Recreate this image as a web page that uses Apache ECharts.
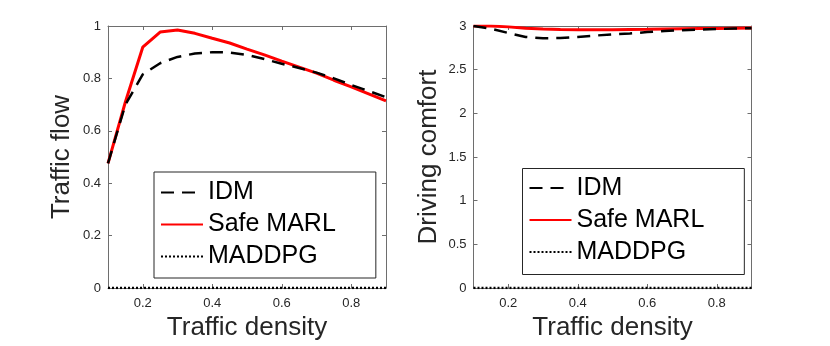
<!DOCTYPE html>
<html>
<head>
<meta charset="utf-8">
<script src="https://cdn.jsdelivr.net/npm/echarts@6/dist/echarts.min.js"></script>
<style>html,body{margin:0;padding:0;background:#fff;}#c{width:830px;height:346px;}</style>
</head>
<body>
<div id="c"></div>
<script>
var density = [0.1,0.15,0.2,0.25,0.3,0.35,0.4,0.45,0.5,0.55,0.6,0.65,0.7,0.75,0.8,0.85,0.9];
var flowIDM = [0.476,0.70,0.815,0.858,0.882,0.895,0.900,0.899,0.890,0.874,0.856,0.840,0.822,0.800,0.775,0.752,0.728];
var flowSafe = [0.476,0.71,0.919,0.977,0.985,0.972,0.953,0.935,0.912,0.890,0.866,0.843,0.820,0.793,0.768,0.741,0.714];
var flowMADDPG = [0,0,0,0,0,0,0,0,0,0,0,0,0,0,0,0,0];
var comfortIDM = [3.0,2.97,2.92,2.875,2.86,2.862,2.875,2.89,2.905,2.915,2.93,2.942,2.952,2.958,2.965,2.97,2.975];
var comfortSafe = [3.0,3.0,2.99,2.975,2.965,2.96,2.958,2.958,2.958,2.96,2.962,2.965,2.968,2.97,2.972,2.975,2.978];
var comfortMADDPG = [0,0,0,0,0,0,0,0,0,0,0,0,0,0,0,0,0];
var xTicks = [0.2,0.4,0.6,0.8];
var flowTicks = [0,0.2,0.4,0.6,0.8,1];
var comfortTicks = [0,0.5,1,1.5,2,2.5,3];
var names = ['IDM','Safe MARL','MADDPG'];
var xTitle = 'Traffic density';
var yTitles = ['Traffic flow','Driving comfort'];

function pairs(ys){ return density.map(function(x,i){ return [x, ys[i]]; }); }

var FONT = 'Liberation Sans, Arial, Helvetica, sans-serif';
var TXT = '#262626';
var AX = '#6e6e6e';

var grids = [
  {left:108, top:26, width:278, height:262},
  {left:473.5, top:26, width:278, height:262}
];

function xAxes(gi){
  return [
    {gridIndex:gi, type:'value', min:0.1, max:0.9, position:'bottom',
     name:xTitle, nameLocation:'middle', nameGap:26,
     nameTextStyle:{fontFamily:FONT, fontSize:26, color:TXT},
     axisLine:{show:true, onZero:false, lineStyle:{color:AX, width:1}},
     axisTick:{show:true, inside:true, length:4, customValues:xTicks, lineStyle:{color:AX}},
     axisLabel:{show:true, customValues:xTicks, margin:9, fontFamily:FONT, fontSize:13, color:TXT,
       formatter:function(v){return String(v);}},
     splitLine:{show:false}},
    {gridIndex:gi, type:'value', min:0.1, max:0.9, position:'top',
     axisLine:{show:true, onZero:false, lineStyle:{color:AX, width:1}},
     axisTick:{show:true, inside:true, length:4, customValues:xTicks, lineStyle:{color:AX}},
     axisLabel:{show:false}, splitLine:{show:false}}
  ];
}
function yAxes(gi, max, interval, ticks, title, gap){
  return [
    {gridIndex:gi, type:'value', min:0, max:max, interval:interval, position:'left',
     name:title, nameLocation:'middle', nameGap:gap, nameRotate:90,
     nameTextStyle:{fontFamily:FONT, fontSize:26, color:TXT},
     axisLine:{show:true, onZero:false, lineStyle:{color:AX, width:1}},
     axisTick:{show:true, inside:true, length:4, lineStyle:{color:AX}},
     axisLabel:{show:true, margin:7, fontFamily:FONT, fontSize:13, color:TXT,
       formatter:function(v){return String(+v.toFixed(2));}},
     splitLine:{show:false}},
    {gridIndex:gi, type:'value', min:0, max:max, interval:interval, position:'right',
     axisLine:{show:true, onZero:false, lineStyle:{color:AX, width:1}},
     axisTick:{show:true, inside:true, length:4, lineStyle:{color:AX}},
     axisLabel:{show:false}, splitLine:{show:false}}
  ];
}

var styles = [
  {color:'#000000', width:2.5, type:[13,8]},
  {color:'#ff0000', width:3, type:'solid'},
  {color:'#000000', width:2.5, type:[2,2]}
];
var dataSets = [[flowIDM, flowSafe, flowMADDPG],[comfortIDM, comfortSafe, comfortMADDPG]];
var series = [];
[0,1].forEach(function(gi){
  [0,1,2].forEach(function(si){
    series.push({
      name:names[si], type:'line', xAxisIndex:gi*2, yAxisIndex:gi*2,
      data:pairs(dataSets[gi][si]), symbol:'none', showSymbol:false,
      lineStyle:{color:styles[si].color, width:styles[si].width, type:styles[si].type},
      itemStyle:{color:styles[si].color},
      z: si===2 ? 5 : (si===1 ? 3 : 4),
      animation:false
    });
  });
});

function legend(left, top, padTop, padBottom){
  return {
    data:names.map(function(n){ return {name:n, itemStyle:{color:'rgba(0,0,0,0)', borderWidth:0, opacity:0}}; }),
    orient:'vertical', left:left, top:top,
    itemWidth:42, itemHeight:14, itemGap:7,
    padding:[padTop,40,padBottom,6],
    borderColor:'#262626', borderWidth:1,
    textStyle:{fontFamily:FONT, fontSize:25, color:'#000', lineHeight:25},
    selectedMode:false
  };
}

var option = {
  animation:false,
  backgroundColor:'#ffffff',
  grid:grids,
  xAxis:xAxes(0).concat(xAxes(1)),
  yAxis:yAxes(0, 1, 0.2, flowTicks, yTitles[0], 33).concat(yAxes(1, 3, 0.5, comfortTicks, yTitles[1], 32)),
  legend:[legend(154, 172, 8, 9), legend(522.5, 168.5, 7, 10)],
  series:series
};
var chart = echarts.init(document.getElementById('c'), null, {renderer:'canvas'});
chart.setOption(option);
</script>
</body>
</html>
